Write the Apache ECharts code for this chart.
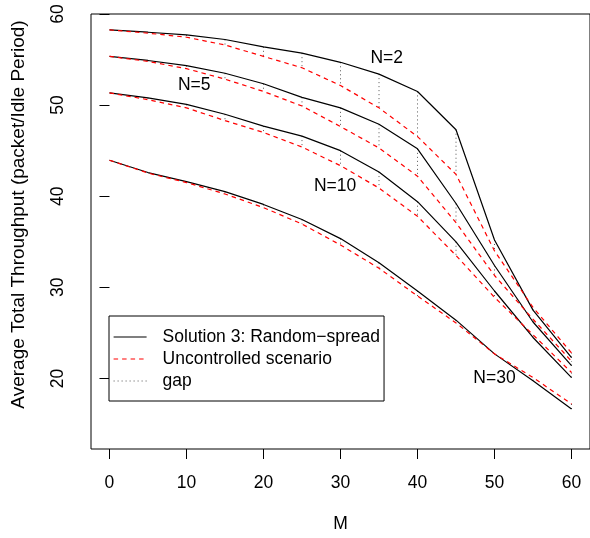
<!DOCTYPE html>
<html>
<head>
<meta charset="utf-8">
<script src="https://cdn.jsdelivr.net/npm/echarts@6/dist/echarts.min.js"></script>
<title>Average Total Throughput</title>
</head>
<body style="margin:0;background:#fff;">
<div id="main" style="width:590px;height:538px;"></div>
<script type="text/javascript">
// number of M values (x axis)
var M = [0, 5, 10, 15, 20, 25, 30, 35, 40, 45, 50, 55, 60];

// Solution 3: Random-spread
var sol2  = [58.26, 58.0, 57.7, 57.2, 56.4, 55.7, 54.7, 53.4, 51.5, 47.3, 35.2, 27.5, 22.3];
var sol5  = [55.35, 54.9, 54.33, 53.5, 52.35, 50.85, 49.7, 47.9, 45.2, 39.2, 32.4, 26.2, 21.4];
var sol10 = [51.35, 50.8, 50.08, 49.0, 47.7, 46.6, 45.0, 42.65, 39.4, 35.0, 29.6, 24.5, 20.1];
var sol30 = [43.95, 42.6, 41.6, 40.5, 39.1, 37.45, 35.35, 32.7, 29.6, 26.4, 22.7, 19.75, 16.65];

// Uncontrolled scenario
var unc2  = [58.26, 57.9, 57.45, 56.6, 55.35, 54.1, 52.15, 49.7, 46.55, 42.4, 34.0, 27.8, 22.8];
var unc5  = [55.35, 54.8, 54.0, 52.85, 51.5, 49.9, 47.65, 45.3, 42.2, 37.1, 31.3, 26.5, 21.9];
var unc10 = [51.35, 50.6, 49.7, 48.3, 47.0, 45.4, 43.35, 40.9, 37.8, 33.5, 28.9, 24.8, 20.65];
var unc30 = [43.95, 42.55, 41.5, 40.25, 38.75, 36.95, 34.65, 32.1, 29.05, 26.1, 22.7, 20.1, 17.2];

var xTicks = [0, 10, 20, 30, 40, 50, 60];
var yTicks = [20, 30, 40, 50, 60];

// curve labels, placed in data coordinates
var curveLabels = [
  {name: 'N=2', value: [36, 55.1]},
  {name: 'N=5', value: [11, 52.15]},
  {name: 'N=10', value: [29.3, 41.15]},
  {name: 'N=30', value: [50, 20]}
];

var SOL = 'Solution 3: Random\u2212spread';
var UNC = 'Uncontrolled scenario';
var GAP = 'gap';

function pairs(ys) {
  var res = [];
  for (var i = 0; i < M.length; i++) res.push([M[i], ys[i]]);
  return res;
}

// vertical dotted segments between the two scenarios, broken by '-'
function gapData() {
  var res = [];
  var sets = [[sol2, unc2], [sol5, unc5], [sol10, unc10], [sol30, unc30]];
  sets.forEach(function (s) {
    for (var i = 0; i < M.length; i++) {
      res.push([M[i], s[0][i]], [M[i], s[1][i]], [M[i], '-']);
    }
  });
  return res;
}

var font = '"Liberation Sans", Arial, Helvetica, sans-serif';
var fs = 17.5;

function solSeries(ys) {
  return {
    name: SOL, type: 'line', data: pairs(ys), symbol: 'none',
    lineStyle: {color: '#000', width: 1.2, type: 'solid'},
    itemStyle: {color: '#000'}, z: 2
  };
}
function uncSeries(ys) {
  return {
    name: UNC, type: 'line', data: pairs(ys), symbol: 'none',
    lineStyle: {color: '#ff0000', width: 1.2, type: [4.5, 4]},
    itemStyle: {color: '#ff0000'}, z: 3
  };
}

var myChart = echarts.init(document.getElementById('main'), null, {renderer: 'canvas'});
myChart.setOption({
  animation: false,
  backgroundColor: '#fff',
  textStyle: {fontFamily: font},
  grid: {
    left: 91, top: 14, right: -3, bottom: 86,
    show: true, borderColor: '#000', borderWidth: 1, backgroundColor: 'transparent'
  },
  xAxis: {
    type: 'value', min: -2.4, max: 62.4,
    name: 'M', nameLocation: 'middle', nameGap: 66,
    nameTextStyle: {fontSize: fs, color: '#000', fontFamily: font},
    axisLine: {show: false},
    splitLine: {show: false},
    axisTick: {show: true, length: 10, customValues: xTicks, lineStyle: {color: '#000', width: 1}},
    axisLabel: {customValues: xTicks, margin: 25, fontSize: fs, color: '#000', fontFamily: font}
  },
  yAxis: {
    type: 'value', min: 12.26, max: 60,
    name: 'Average Total Throughput (packet/Idle Period)', nameLocation: 'middle', nameGap: 63,
    nameTextStyle: {fontSize: 19, color: '#000', fontFamily: font, padding: [0, 0, 0, 34]},
    axisLine: {show: false},
    splitLine: {show: false},
    axisTick: {show: true, length: 10, customValues: yTicks, lineStyle: {color: '#000', width: 1}},
    axisLabel: {customValues: yTicks, rotate: 90, margin: 24, fontSize: fs, color: '#000', fontFamily: font}
  },
  legend: {
    data: [SOL, UNC, GAP],
    orient: 'vertical', left: 109, top: 316,
    borderColor: '#000', borderWidth: 1, borderRadius: 0,
    padding: [12, 4, 11, 4],
    itemWidth: 33, itemHeight: 16, itemGap: 4,
    backgroundColor: '#fff',
    selectedMode: false,
    itemStyle: {opacity: 0},
    lineStyle: {width: 1.2},
    textStyle: {fontSize: fs, color: '#000', fontFamily: font, lineHeight: 16, padding: [0, 0, 0, 11]}
  },
  series: [
    solSeries(sol2), solSeries(sol5), solSeries(sol10), solSeries(sol30),
    uncSeries(unc2), uncSeries(unc5), uncSeries(unc10), uncSeries(unc30),
    {
      name: GAP, type: 'line', data: gapData(), symbol: 'none', connectNulls: false,
      lineStyle: {color: '#555', width: 1, type: [1, 3]},
      itemStyle: {color: '#555'}, z: 1
    },
    {
      name: 'labels', type: 'scatter', data: curveLabels, symbolSize: 0,
      itemStyle: {opacity: 1},
      label: {show: true, position: 'inside', formatter: '{b}', fontSize: fs, color: '#000',
        fontFamily: font, opacity: 1},
      z: 4
    }
  ]
});
</script>
</body>
</html>
